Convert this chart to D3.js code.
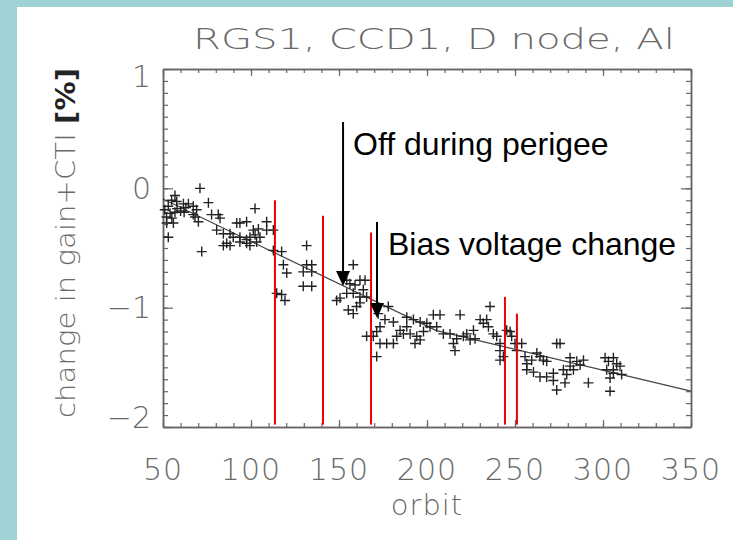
<!DOCTYPE html>
<html><head><meta charset="utf-8">
<script src="https://cdn.jsdelivr.net/npm/d3@7"></script>
<style>html,body{margin:0;padding:0;background:#fff;}svg{display:block;}</style>
</head><body>
<svg id="c" width="733" height="540"></svg>
<script>
// ---- data ----
const orbits = [71.0,56.8,54.9,57.8,61.6,64.4,67.2,69.1,75.8,102.3,72.0,53.0,52.1,55.9,54.0,56.8,67.2,68.2,70.1,77.6,81.4,82.4,80.5,84.3,88.1,89.9,93.7,86.2,84.3,88.1,93.7,97.5,99.4,91.9,93.7,97.5,101.3,104.2,108.9,108.9,112.7,99.4,102.3,97.5,105.1,103.2,112.7,117.4,118.4,120.3,114.6,117.4,119.3,131.6,131.6,134.5,129.7,134.5,129.7,134.5,158.1,154.4,156.2,159.1,161.9,164.8,150.6,148.7,154.4,158.1,161.9,165.7,160.0,155.3,158.1,161.9,163.8,178.0,172.3,176.1,173.3,180.9,165.7,169.5,171.4,173.3,177.1,180.9,171.4,182.8,184.7,
188.5,192.3,196.1,199.9,203.6,207.4,188.5,186.6,190.4,194.2,196.1,193.2,198.0,201.7,205.5,209.3,213.1,215.0,215.9,218.8,216.9,220.7,222.6,224.5,226.4,227.3,230.2,232.0,233.9,235.8,234.9,237.7,239.6,241.5,241.5,243.4,241.5,245.3,247.2,248.1,250.0,251.0,253.8,255.7,256.7,259.5,262.4,264.2,266.1,268.0,256.7,260.5,264.2,268.0,271.8,273.7,275.6,271.8,273.7,277.5,278.4,279.4,281.3,283.2,281.3,285.1,287.0,288.9,291.7,301.2,303.1,305.9,307.8,302.1,305.9,309.7,304.0,305.9,310.6,304.0,
51.0,52.0,53.0,55.0,58.0,60.0,62.0,63.0];
const gainChange = [0.00,-0.06,-0.10,-0.11,-0.13,-0.13,-0.15,-0.18,-0.12,-0.17,-0.53,-0.41,-0.29,-0.29,-0.21,-0.20,-0.22,-0.24,-0.28,-0.22,-0.22,-0.25,-0.35,-0.38,-0.38,-0.41,-0.41,-0.46,-0.48,-0.48,-0.45,-0.46,-0.48,-0.29,-0.29,-0.28,-0.35,-0.34,-0.28,-0.35,-0.35,-0.41,-0.39,-0.43,-0.41,-0.45,-0.52,-0.53,-0.64,-0.71,-0.88,-0.89,-0.94,-0.48,-0.64,-0.64,-0.70,-0.70,-0.82,-0.82,-0.64,-0.77,-0.80,-0.81,-0.77,-0.77,-0.92,-0.94,-0.88,-0.88,-0.91,-0.91,-0.99,-1.02,-1.05,-0.96,-0.85,-0.99,-1.05,-1.10,-1.16,-1.12,-1.24,-1.24,-1.20,-1.30,-1.30,-1.30,-1.41,-1.24,-1.19,
-1.08,-1.10,-1.12,-1.13,-1.06,-1.06,-1.16,-1.22,-1.22,-1.24,-1.27,-1.30,-1.20,-1.16,-1.16,-1.22,-1.22,-1.30,-1.36,-1.06,-1.26,-1.24,-1.22,-1.27,-1.19,-1.26,-1.10,-1.13,-1.10,-0.99,-1.16,-1.22,-1.24,-1.30,-1.36,-1.41,-1.44,-1.19,-1.20,-1.24,-1.30,-1.36,-1.30,-1.41,-1.47,-1.44,-1.38,-1.41,-1.44,-1.45,-1.52,-1.54,-1.58,-1.58,-1.55,-1.30,-1.30,-1.61,-1.69,-1.52,-1.63,-1.56,-1.49,-1.52,-1.42,-1.45,-1.48,-1.44,-1.63,-1.42,-1.45,-1.42,-1.47,-1.52,-1.52,-1.49,-1.59,-1.55,-1.56,-1.70,
-0.18,-0.24,-0.15,-0.25,-0.17,-0.19,-0.20,-0.16];

const fitOrbit = [50, 205, 350];
const fitValue = [-0.09, -1.19, -1.70];

const eventOrbit = [113.6, 140.9, 168.2, 244.3, 251.1];
const eventTop = [-0.10, -0.23, -0.37, -0.91, -1.05];
const eventBottom = -1.98;

const arrowOrbit = [152.3, 171.6];
const arrowTop = [0.556, -0.282];
const arrowTip = [-0.818, -1.087];
const annoText = ["Off during perigee", "Bias voltage change"];
const annoOrbit = [158.0, 177.8];
const annoValue = [0.279, -0.56];

const xTicks = [50,100,150,200,250,300,350];
const yTicks = [1,0,-1,-2];
const title = "RGS1, CCD1, D node, Al";
const xLabel = "orbit";
const yLabelMain = "change in gain+CTI ";
const yLabelUnit = "[%]";

// ---- drawing ----
const svg = d3.select("#c");
const W = 733, H = 540;
const L = 163, R = 691, T = 69, B = 427;
svg.append("rect").attr("width", W).attr("height", H).attr("fill", "#9fd2d4");
svg.append("rect").attr("x", 17).attr("y", 7).attr("width", W - 17).attr("height", H - 7).attr("fill", "#fff");

const x = d3.scaleLinear().domain([50, 350]).range([L, R]);
const y = d3.scaleLinear().domain([-2, 1]).range([B, T]);

const axisColor = "#666";
const minorX = d3.range(50, 351, 10);
const minorY = d3.range(-20, 11, 1).map(d => d / 10);

function styleAxis(g) {
  g.selectAll("path").attr("stroke", axisColor).attr("stroke-width", 1.5);
  g.selectAll("line").attr("stroke", axisColor).attr("stroke-width", 1.2);
  g.selectAll("text").remove();
}
svg.append("g").attr("transform", `translate(0,${B})`).call(d3.axisBottom(x).tickValues(minorX).tickSizeInner(-4).tickSizeOuter(0)).call(styleAxis);
svg.append("g").attr("transform", `translate(0,${B})`).call(d3.axisBottom(x).tickValues(xTicks).tickSizeInner(-7).tickSizeOuter(0)).call(styleAxis);
svg.append("g").attr("transform", `translate(0,${T})`).call(d3.axisTop(x).tickValues(minorX).tickSizeInner(-4).tickSizeOuter(0)).call(styleAxis);
svg.append("g").attr("transform", `translate(0,${T})`).call(d3.axisTop(x).tickValues(xTicks).tickSizeInner(-7).tickSizeOuter(0)).call(styleAxis);
svg.append("g").attr("transform", `translate(${L},0)`).call(d3.axisLeft(y).tickValues(minorY).tickSizeInner(-5).tickSizeOuter(0)).call(styleAxis);
svg.append("g").attr("transform", `translate(${L},0)`).call(d3.axisLeft(y).tickValues(yTicks).tickSizeInner(-10).tickSizeOuter(0)).call(styleAxis);
svg.append("g").attr("transform", `translate(${R},0)`).call(d3.axisRight(y).tickValues(minorY).tickSizeInner(-5).tickSizeOuter(0)).call(styleAxis);
svg.append("g").attr("transform", `translate(${R},0)`).call(d3.axisRight(y).tickValues(yTicks).tickSizeInner(-10).tickSizeOuter(0)).call(styleAxis);

const labelFont = "'DejaVu Sans', 'Liberation Sans', sans-serif";
const labelColor = "#6a6a6a";

// tick labels
svg.append("g").selectAll("text").data(xTicks).join("text")
  .attr("x", d => x(d)).attr("y", B + 53)
  .attr("text-anchor", "middle").attr("font-family", labelFont).attr("font-weight", 200).attr("font-size", 30)
  .attr("letter-spacing", 1).attr("fill", labelColor)
  .text(d => d);
svg.append("g").selectAll("text").data(yTicks).join("text")
  .attr("x", L - 12).attr("y", d => Math.min(Math.max(y(d), T + 7), B - 10)).attr("dy", "0.36em")
  .attr("text-anchor", "end").attr("font-family", labelFont).attr("font-weight", 200).attr("font-size", 30)
  .attr("fill", labelColor)
  .text(d => d < 0 ? "\u2212" + Math.abs(d) : d);

// titles
svg.append("text").attr("x", 193).attr("y", 49).attr("font-family", labelFont).attr("font-weight", 200).attr("font-size", 29)
  .attr("fill", labelColor).attr("textLength", 482).attr("lengthAdjust", "spacingAndGlyphs").text(title);
svg.append("text").attr("x", (L + R) / 2).attr("y", 515).attr("text-anchor", "middle")
  .attr("font-family", labelFont).attr("font-weight", 200).attr("font-size", 29).attr("fill", labelColor).attr("letter-spacing", 1).text(xLabel);
const yl = svg.append("text").attr("transform", `translate(75,243) rotate(-90)`).attr("text-anchor", "middle")
  .attr("font-family", labelFont).attr("font-weight", 200).attr("font-size", 27).attr("fill", labelColor)
  .attr("textLength", 350).attr("lengthAdjust", "spacingAndGlyphs");
yl.append("tspan").text(yLabelMain);
yl.append("tspan").attr("fill", "#222").attr("font-weight", "bold").text(yLabelUnit);

// fit line
const fit = fitOrbit.map((o, i) => [o, fitValue[i]]);
svg.append("path").datum(fit)
  .attr("d", d3.line().x(d => x(d[0])).y(d => y(d[1])))
  .attr("fill", "none").attr("stroke", "#444").attr("stroke-width", 1.2);

// points
const pts = orbits.map((o, i) => [o, gainChange[i]]);
svg.append("g").selectAll("path").data(pts).join("path")
  .attr("transform", d => `translate(${x(d[0])},${y(d[1])})`)
  .attr("d", "M-5,0H5M0,-5V5")
  .attr("stroke", "#222").attr("stroke-width", 1.4).attr("fill", "none");

// red event lines
svg.append("g").selectAll("line").data(eventOrbit).join("line")
  .attr("x1", d => x(d)).attr("x2", d => x(d))
  .attr("y1", (d, i) => y(eventTop[i])).attr("y2", y(eventBottom))
  .attr("stroke", "#ee0000").attr("stroke-width", 2);

// arrows
const ag = svg.append("g");
arrowOrbit.forEach((o, i) => {
  const ax = x(o), y0 = y(arrowTop[i]), y1 = y(arrowTip[i]);
  ag.append("line").attr("x1", ax).attr("x2", ax).attr("y1", y0).attr("y2", y1 - 10)
    .attr("stroke", "#000").attr("stroke-width", 2);
  ag.append("path").attr("d", `M${ax - 7},${y1 - 15}L${ax + 7},${y1 - 15}L${ax},${y1}Z`).attr("fill", "#000");
});
svg.append("g").selectAll("text").data(annoText).join("text")
  .attr("x", (d, i) => x(annoOrbit[i])).attr("y", (d, i) => y(annoValue[i]))
  .attr("font-family", "Arial, 'Liberation Sans', sans-serif").attr("font-size", 32).attr("fill", "#000")
  .text(d => d);
</script>
</body></html>
